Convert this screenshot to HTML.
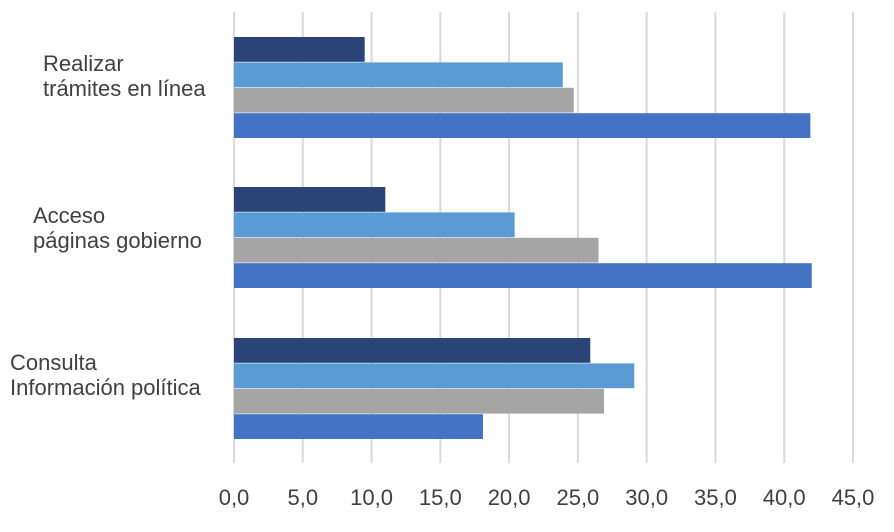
<!DOCTYPE html>
<html><head><meta charset="utf-8"><style>
body{margin:0;background:#fff;width:894px;height:527px;overflow:hidden}
text{font-family:"Liberation Sans",sans-serif;fill:#404040}
</style></head><body>
<svg id="chart" width="894" height="527" viewBox="0 0 894 527"></svg>
<script>
const categories=["Realizar|trámites en línea","Acceso|páginas gobierno","Consulta|Información política"];
const seriesNavy=[9.5,11.0,25.9];
const seriesLight=[23.9,20.4,29.1];
const seriesGray=[24.7,26.5,26.9];
const seriesBlue=[41.9,42.0,18.1];
const ticks=[0,5,10,15,20,25,30,35,40,45];
const tickLabels=["0,0","5,0","10,0","15,0","20,0","25,0","30,0","35,0","40,0","45,0"];
const series=[seriesNavy,seriesLight,seriesGray,seriesBlue];
const colors=["#2b4478","#5b9bd5","#a5a5a5","#4472c4"];
const svg=document.getElementById('chart');
const NS="http://www.w3.org/2000/svg";
const x=v=>234+v*(853-234)/45;
const groupTop=[37,187,338], barH=25.4;
function mk(t,a){const e=document.createElementNS(NS,t);for(const k in a)e.setAttribute(k,a[k]);svg.appendChild(e);return e;}
ticks.forEach((t,i)=>{
 const l=mk('line',{x1:x(t),x2:x(t),y1:12,y2:463,stroke:'#d9d9d9','stroke-width':2});
 
 
 const tx=mk('text',{x:x(t),y:505,'text-anchor':'middle','font-size':22});
 tx.textContent=tickLabels[i];
 
 
});
categories.forEach((c,g)=>{
 series.forEach((s,k)=>{
  const r=mk('rect',{x:x(0),y:groupTop[g]+k*barH,width:x(s[g])-x(0),height:barH-0.6,fill:colors[k]});
  
  
 });
 const parts=c.split('|');
 const lx=[[43,43],[33,33],[10,10]][g];
 const ly=groupTop[g]+[[34,60],[36,60],[32,56]][g][0];
 parts.forEach((p,j)=>{
  const t=mk('text',{x:lx[j],y:ly+j*25,'font-size':22});
  t.textContent=p;
  
  
 });
});
</script>
</body></html>
